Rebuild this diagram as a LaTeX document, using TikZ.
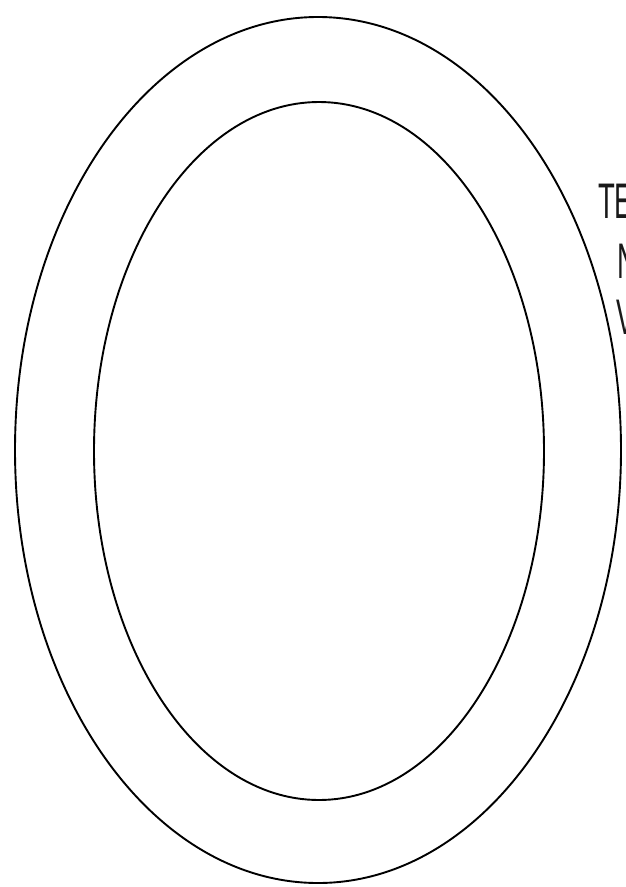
\documentclass[tikz,border=0pt]{standalone}
\usepackage{fontspec}
\setmainfont{Liberation Sans}
\usetikzlibrary{shapes.geometric}
\begin{document}
\begin{tikzpicture}[x=1pt,y=-1pt,
  ring/.style={draw=black, line width=1.9pt, ellipse, inner sep=0pt},
  lbl/.style={anchor=base west, inner sep=0pt, font=\fontsize{50}{50}\selectfont, xscale=0.55, text=black!90}]
\useasboundingbox (0,0) rectangle (625,887);
\clip (0,0) rectangle (625,887);
\fill[white] (0,0) rectangle (625,887);
\node[ring, minimum width=606pt, minimum height=866pt] (outer) at (318,450) {};
\node[ring, minimum width=450pt, minimum height=698pt] (inner) at (319,451) {};
\node[lbl] (t1) at (598,218) {TE};
\node[lbl] (t2) at (617,278) {N};
\node[lbl] (t3) at (616,334) {V};
\end{tikzpicture}
\end{document}
